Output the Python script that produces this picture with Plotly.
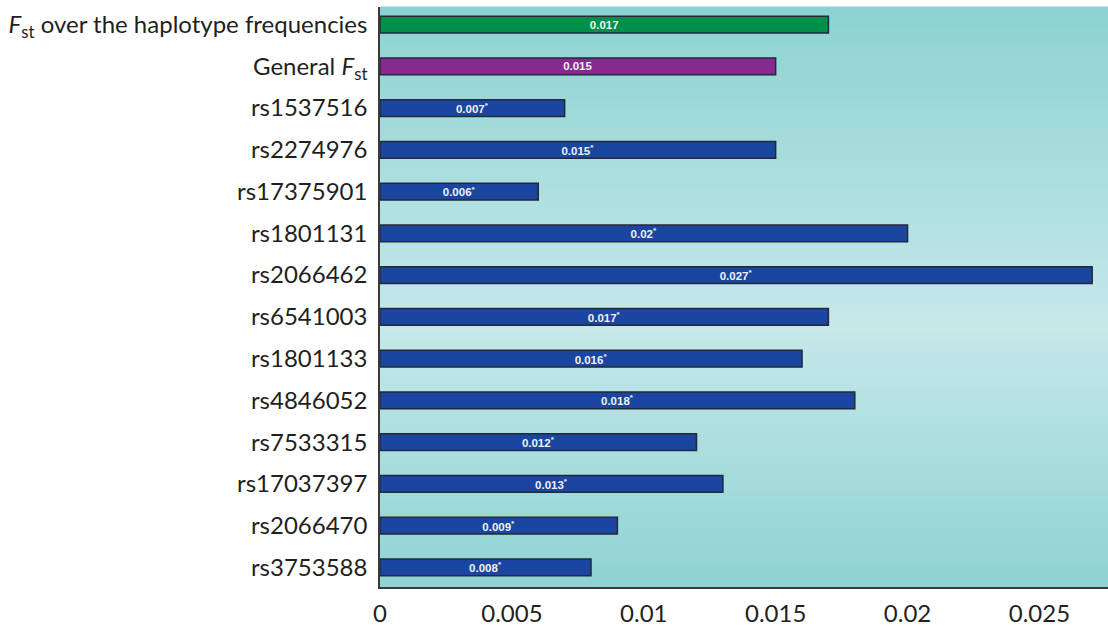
import plotly.graph_objects as go

categories = [
    "<i>F</i><sub>st</sub> over the haplotype frequencies",
    "General <i>F</i><sub>st</sub>",
    "rs1537516", "rs2274976", "rs17375901", "rs1801131", "rs2066462",
    "rs6541003", "rs1801133", "rs4846052", "rs7533315", "rs17037397",
    "rs2066470", "rs3753588",
]
values = [0.017, 0.015, 0.007, 0.015, 0.006, 0.020, 0.027, 0.017, 0.016,
          0.018, 0.012, 0.013, 0.009, 0.008]
labels = ["0.017", "0.015", "0.007<sup>*</sup>", "0.015<sup>*</sup>", "0.006<sup>*</sup>",
          "0.02<sup>*</sup>", "0.027<sup>*</sup>", "0.017<sup>*</sup>", "0.016<sup>*</sup>",
          "0.018<sup>*</sup>", "0.012<sup>*</sup>", "0.013<sup>*</sup>", "0.009<sup>*</sup>",
          "0.008<sup>*</sup>"]
bar_colors = ["#00904a", "#862a8e"] + ["#1a46a0"] * 12

x_ticks = [0, 0.005, 0.01, 0.015, 0.02, 0.025]
x_ticktext = ["0", "0.005", "0.01", "0.015", "0.02", "0.025"]

fig = go.Figure()
fig.add_trace(go.Bar(
    y=list(range(len(categories))), x=values, orientation="h",
    marker=dict(color=bar_colors, line=dict(color="#23283a", width=1.5)),
    width=0.4,
    text=labels, textposition="inside", insidetextanchor="middle",
    textfont=dict(family="Arial, Liberation Sans, sans-serif", size=11.5, color="#f2f2f2", weight="bold"),
    textangle=0, constraintext="none",
    hoverinfo="skip",
))

# vertical gradient background (teal -> light -> teal)
def lerp(c1, c2, t):
    return tuple(round(a + (b - a) * t) for a, b in zip(c1, c2))

top = (0x8d, 0xd2, 0xd2)
mid = (0xc6, 0xe8, 0xe9)
bot = (0x8f, 0xd3, 0xd3)
n = 80
shapes = []
for i in range(n):
    f = i / (n - 1)  # 0 = top, 1 = bottom
    if f < 0.55:
        c = lerp(top, mid, f / 0.55)
    else:
        c = lerp(mid, bot, (f - 0.55) / 0.45)
    y1 = 1 - i / n
    y0 = 1 - (i + 1) / n
    shapes.append(dict(type="rect", xref="paper", yref="paper", x0=0, x1=1,
                       y0=y0 - 0.001, y1=y1 + 0.001, layer="below",
                       fillcolor="rgb(%d,%d,%d)" % c, line=dict(width=0)))

fig.update_layout(
    width=1108, height=628,
    margin=dict(l=380, r=0, t=7, b=41),
    paper_bgcolor="white", plot_bgcolor="#a8dcdc",
    shapes=shapes, showlegend=False,
    font=dict(family="Lato, Open Sans, sans-serif", color="#231f20"),
)
fig.update_xaxes(range=[0, 0.0276], tickvals=x_ticks, ticktext=x_ticktext,
                 tickfont=dict(size=24, color="#231f20"), showgrid=False, zeroline=False,
                 showline=True, linecolor="#3a3a3a", linewidth=1.5, ticks="outside", ticklen=4,
                 tickcolor="rgba(0,0,0,0)")
fig.update_yaxes(range=[13.47, -0.42], tickvals=list(range(len(categories))), ticktext=categories,
                 tickfont=dict(size=24, color="#231f20"), showgrid=False, zeroline=False,
                 showline=True, linecolor="#3a3a3a", linewidth=1.5, ticks="outside", ticklen=6,
                 tickcolor="rgba(0,0,0,0)")

fig.write_html("out.html", config={"displayModeBar": False},
               post_script="document.body.style.margin='0';document.body.style.overflow='hidden';")
